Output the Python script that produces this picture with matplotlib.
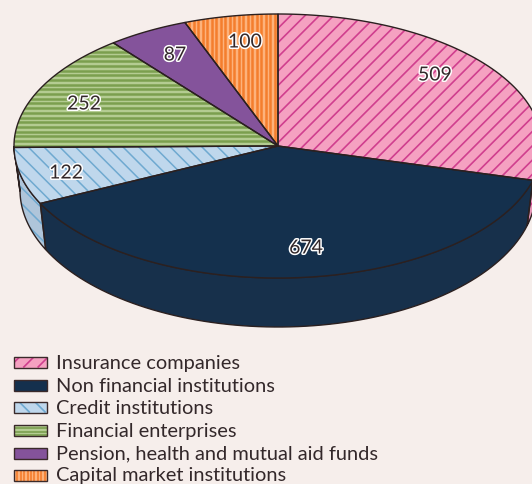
import numpy as np
import matplotlib
matplotlib.use('Agg')
import matplotlib.pyplot as plt
import matplotlib.patheffects as pe
from matplotlib.collections import LineCollection
from matplotlib.patches import Polygon, Rectangle

#data
names = ['Insurance companies', 'Non financial institutions', 'Credit institutions',
         'Financial enterprises', 'Pension, health and mutual aid funds', 'Capital market institutions']
values = [509, 674, 122, 252, 87, 100]

#colours: fill, stripe, side fill
fills = ['#f5a1c1', '#14304d', '#bfd7ec', '#b4cc92', '#84539b', '#fdb27b']
stripes = ['#d03f8e', None, '#6fa9d0', '#7b9f4f', None, '#f47e2d']
sides = ['#e596b6', '#17304b', '#afc5da', '#b4cc92', '#84539b', '#fdb27b']
kinds = ['/', None, '\\', '-', None, '|']
spacing = [14.3, 0, 15.8, 4.7, 0, 4.5]
widths = [1.2, 0, 1.1, 1.8, 0, 1.8]

bg = '#f6eeeb'
edge = '#2b2020'
txt = '#33282a'

#label positions in pixels
label_x = [435, 306, 66, 84, 175, 245]
label_y = [75, 248, 173, 104, 55, 42]
legend_y = [362, 385, 407, 430, 453, 475]

plt.rcParams['font.family'] = ['Lato', 'DejaVu Sans']

fig = plt.figure(figsize=(5.32, 4.84), dpi=100, facecolor=bg)
ax = fig.add_axes([0, 0, 1, 1])
ax.set_xlim(0, 532)
ax.set_ylim(484, 0)
ax.axis('off')

#top ellipse and bottom ellipse of the pie
def top_pt(a):
    return 278 + 264 * np.sin(a), 146 - 132 * np.cos(a)

def bot_pt(a):
    return 278 + 258 * np.sin(a), 190 - 137 * np.cos(a)

def add_stripes(patch, kind, step, color, x0, x1, y0, y1, lw=1.1):
    #stripes drawn over the box, clipped to the patch
    segs = []
    if kind == '/':
        for c in np.arange(x0 + 6, x1 + (y1 - y0) + step, step):
            segs.append([(c, y0), (c - (y1 - y0), y1)])
    elif kind == '\\':
        for c in np.arange(x0 - (y1 - y0), x1 + step, step):
            segs.append([(c, y0), (c + (y1 - y0), y1)])
    elif kind == '-':
        for c in np.arange(y0, y1 + step, step):
            segs.append([(x0, c), (x1, c)])
    elif kind == '|':
        for c in np.arange(x0, x1 + step, step):
            segs.append([(c, y0), (c, y1)])
    lc = LineCollection(segs, colors=color, linewidths=lw, zorder=patch.get_zorder() + 0.1)
    ax.add_collection(lc)
    lc.set_clip_path(patch)

#slice angles, clockwise from the top
cum = np.cumsum([0] + values) / sum(values) * 2 * np.pi

#sides first, only the part that faces the viewer
for i in range(len(values)):
    a0 = max(cum[i], np.pi / 2)
    a1 = min(cum[i + 1], 3 * np.pi / 2)
    if a1 <= a0:
        continue
    t = np.linspace(a0, a1, 80)
    up = np.column_stack(top_pt(t))
    low = np.column_stack(bot_pt(t[::-1]))
    p = Polygon(np.vstack([up, low]), closed=True, facecolor=sides[i], edgecolor='none', zorder=2)
    ax.add_patch(p)
    if kinds[i]:
        add_stripes(p, kinds[i], spacing[i], stripes[i], 0, 560, 0, 340, lw=widths[i])
    ax.add_patch(Polygon(np.vstack([up, low]), closed=True, facecolor='none', edgecolor=edge, lw=1.0, zorder=2.5))

#top of the pie
for i in range(len(values)):
    t = np.linspace(cum[i], cum[i + 1], 160)
    pts = np.vstack([[278, 146], np.column_stack(top_pt(t))])
    p = Polygon(pts, closed=True, facecolor=fills[i], edgecolor='none', zorder=3)
    ax.add_patch(p)
    if kinds[i]:
        add_stripes(p, kinds[i], spacing[i], stripes[i], 0, 560, 0, 340, lw=widths[i])
    ax.add_patch(Polygon(pts, closed=True, facecolor='none', edgecolor=edge, lw=1.0, zorder=4))

#value labels
for i in range(len(values)):
    ax.text(label_x[i], label_y[i], str(values[i]), fontsize=14, color=txt, ha='center', va='center', zorder=6,
            path_effects=[pe.withStroke(linewidth=2.2, foreground='white')])

#legend
for i in range(len(names)):
    r = Rectangle((14, legend_y[i] - 5.5), 33, 11, facecolor=fills[i], edgecolor='none', zorder=3)
    ax.add_patch(r)
    if kinds[i]:
        step = spacing[i] if kinds[i] in '/\\' else {'-': 3.6, '|': 3.4}[kinds[i]]
        add_stripes(r, kinds[i], step, stripes[i], 14, 47, legend_y[i] - 5.5, legend_y[i] + 5.5, lw=1.2)
    ax.add_patch(Rectangle((14, legend_y[i] - 5.5), 33, 11, facecolor='none', edgecolor='#3a2a2a', lw=1.0, zorder=4))
    ax.text(56, legend_y[i] + 1, names[i], fontsize=14.4, color=txt, ha='left', va='center')

fig.savefig('out.png', dpi=100, facecolor=bg)
